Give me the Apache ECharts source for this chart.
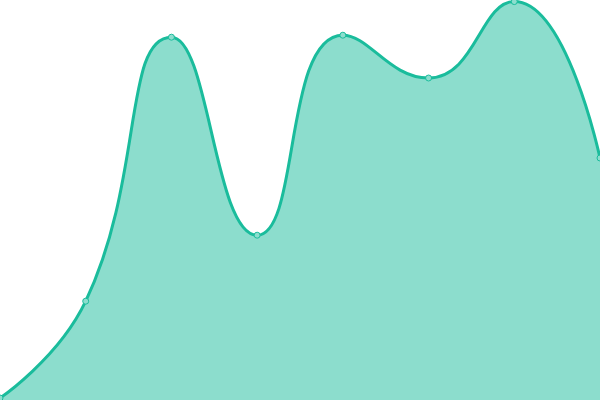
<!DOCTYPE html>
<html>
<head>
<meta charset="utf-8">
<script src="https://cdn.jsdelivr.net/npm/echarts@6/dist/echarts.min.js"></script>
<style>
	html, body { margin: 0; padding: 0; background: #fff; }
	#chart { width: 600px; height: 400px; }
</style>
</head>
<body>
<div id="chart"></div>
<script>
const categories = ['1', '2', '3', '4', '5', '6', '7', '8'];
const values = [0.5, 24.7, 90.7, 41.2, 91.2, 80.5, 99.6, 60.5];

const lineColor = '#1abc9c';

const chart = echarts.init(document.getElementById('chart'));

chart.setOption({
	animation: false,
	grid: {
		left: 0,
		right: 0,
		top: 0,
		bottom: 0
	},
	xAxis: {
		type: 'category',
		boundaryGap: false,
		data: categories,
		show: false
	},
	yAxis: {
		type: 'value',
		min: 0,
		max: 100,
		show: false
	},
	series: [{
		type: 'line',
		smooth: true,
		data: values,
		symbol: 'circle',
		symbolSize: 6,
		itemStyle: {
			color: '#8cdece',
			borderColor: lineColor,
			borderWidth: 1
		},
		lineStyle: {
			color: lineColor,
			width: 3
		},
		areaStyle: {
			color: lineColor,
			opacity: 0.5
		}
	}]
});
</script>
</body>
</html>
